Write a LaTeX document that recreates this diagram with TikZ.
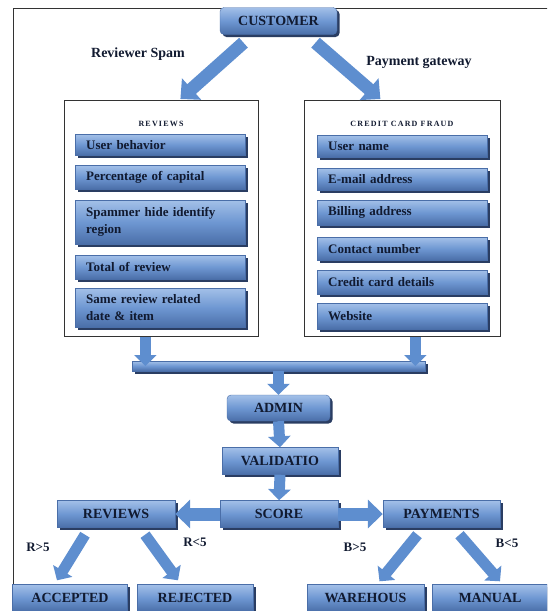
\documentclass[tikz,border=0pt]{standalone}
\usepackage{fontspec}
\setmainfont{Liberation Serif}
\usetikzlibrary{arrows.meta,shadows}

\definecolor{barlight}{HTML}{A3C0E8}
\definecolor{barmid}{HTML}{6E97D2}
\definecolor{bardark}{HTML}{4A6EA8}
\definecolor{barshade}{HTML}{2A3D62}
\definecolor{arrowblue}{HTML}{5E8ECF}
\definecolor{inkdark}{HTML}{111A30}

\begin{document}
\begin{tikzpicture}[x=1pt,y=-1pt,
	bluebox/.style={draw=bardark, line width=0.4pt, top color=barlight, bottom color=bardark, middle color=barmid, drop shadow={shadow xshift=2.5pt,shadow yshift=-2.5pt,fill=barshade,opacity=1}, text=inkdark},
	headbox/.style={bluebox, font=\fontsize{14}{16}\selectfont\bfseries, minimum height=27pt, inner sep=0pt},
	itembar/.style={bluebox, anchor=north west, text width=148pt, inner xsep=11pt, inner ysep=1pt, align=left, font=\fontsize{13}{17}\selectfont\bfseries},
	panel/.style={draw=black!80, line width=0.8pt, anchor=north west, inner sep=0pt},
	paneltitle/.style={font=\fontsize{8}{9}\selectfont\bfseries\addfontfeatures{LetterSpace=15}, text=inkdark},
	fatarrow/.style={draw=arrowblue, line width=13pt, -{Triangle[width=28pt,length=15pt]}},
	stubarrow/.style={draw=arrowblue, line width=11pt, -{Triangle[width=22pt,length=11pt]}},
	caselabel/.style={font=\fontsize{13}{15}\selectfont\bfseries, text=inkdark}]
	\useasboundingbox (0,0) rectangle (547,611);
	\clip (0,0) rectangle (547,611);
	\draw[black!80, line width=0.8pt] (13,8) rectangle (560,614);

	% top
	\node[headbox, rounded corners=4pt, minimum width=117pt] (cust) at (278.5,21) {CUSTOMER};
	\node[caselabel, font=\fontsize{14}{16}\selectfont\bfseries] (spamlbl) at (138,54) {Reviewer Spam};
	\node[caselabel, font=\fontsize{14}{16}\selectfont\bfseries] (paylbl) at (419,62) {Payment gateway};

	% the two panels
	\node[panel, minimum width=194pt, minimum height=236pt] (revpanel) at (64,100) {};
	\node[panel, minimum width=196pt, minimum height=236pt] (ccpanel) at (304,100) {};
	\node[paneltitle] (revtitle) at (161,124) {REVIEWS};
	\node[paneltitle] (cctitle) at (402,124) {CREDIT CARD FRAUD};
	\foreach \y/\h/\txt [count=\i] in {134/21/User behavior, 165/24/Percentage  of capital, 200/44/{Spammer hide identify\\region}, 255/24/Total of review, 288/39/{Same review  related\\date \& item}}
		\node[itembar, minimum height=\h pt] (rb\i) at (75,\y) {\txt};
	\foreach \y/\h/\txt [count=\i] in {135/22/User name, 168/22/E-mail address, 200/25/Billing address, 237/23/Contact number, 270/24/Credit card details, 303/26/Website}
		\node[itembar, minimum height=\h pt] (cb\i) at (317,\y) {\txt};

	\draw[fatarrow] ([xshift=-35pt,yshift=-8pt]cust.south) -- ([xshift=19pt,yshift=1pt]revpanel.north);
	\draw[fatarrow] ([xshift=37pt,yshift=-8pt]cust.south) -- ([xshift=-22pt,yshift=1pt]ccpanel.north);

	% merge and chain
	\node[bluebox, minimum width=293pt, minimum height=10pt, inner sep=0pt] (merge) at (278.5,366) {};
	\coordinate (ldrop) at ([xshift=-16pt]revpanel.south);
	\coordinate (rdrop) at ([xshift=13pt]ccpanel.south);
	\draw[stubarrow] (ldrop) -- (ldrop |- merge.center);
	\draw[stubarrow] (rdrop) -- (rdrop |- merge.center);

	\node[headbox, rounded corners=4pt, minimum width=103pt, minimum height=26pt] (admin) at (278.5,408) {ADMIN};
	\node[headbox, minimum width=116pt] (valid) at (280,461) {VALIDATIO};
	\node[headbox, minimum width=118pt] (score) at (279,514) {SCORE};
	\node[headbox, minimum width=118pt] (revs) at (116,514) {REVIEWS};
	\node[headbox, minimum width=117pt] (pay) at (441.5,514) {PAYMENTS};
	\draw[stubarrow] (merge.south) -- (admin.north);
	\draw[stubarrow] (admin.south) -- (valid.north);
	\draw[stubarrow] (valid.south) -- (score.north);
	\draw[fatarrow] (score.west) -- (revs.east);
	\draw[fatarrow] (score.east) -- (pay.west);

	% outcomes
	\node[headbox, minimum width=115pt] (acc) at (70,598) {ACCEPTED};
	\node[headbox, minimum width=116pt] (rej) at (195,598) {REJECTED};
	\node[headbox, minimum width=117pt] (ware) at (365.5,598) {WAREHOUS};
	\node[headbox, minimum width=115pt] (manual) at (490,598) {MANUAL};
	\draw[stubarrow] ([xshift=-31pt,yshift=-7pt]revs.south) -- ([xshift=-13pt,yshift=4pt]acc.north);
	\draw[stubarrow] ([xshift=29pt,yshift=-7pt]revs.south) -- ([xshift=-17pt,yshift=4pt]rej.north);
	\draw[stubarrow] ([xshift=-24pt,yshift=-7pt]pay.south) -- ([xshift=14pt,yshift=3pt]ware.north);
	\draw[stubarrow] ([xshift=18pt,yshift=-7pt]pay.south) -- ([xshift=10pt,yshift=3pt]manual.north);
	\node[caselabel] (rgt) at (38,547) {R>5};
	\node[caselabel] (rlt) at (195,542) {R<5};
	\node[caselabel] (bgt) at (355,547) {B>5};
	\node[caselabel] (blt) at (507,543) {B<5};
\end{tikzpicture}
\end{document}
